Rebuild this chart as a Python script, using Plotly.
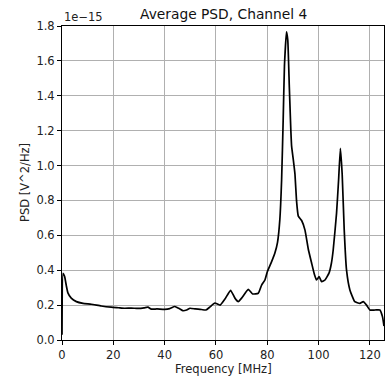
import plotly.graph_objects as go

# Frequency in MHz, PSD in units of 1e-15 V^2/Hz
freq_mhz = [0, 0.4, 1.0, 1.7, 2.3, 3.6, 5.6, 8.2, 11.4, 15.3, 19.2, 22, 24.4, 27, 29.6, 32,
            33.5, 34.8, 37, 40.0, 42, 43.9, 45, 46, 47.1, 48.6, 49.9, 52, 53.8, 56.1, 57.7,
            59.6, 61.6, 63.5, 65.7, 67.4, 68.7, 70.0, 72.6, 74.3, 76.5, 77.8, 79.1, 80.0,
            81.7, 83.0, 84.0, 84.9, 85.6, 86.2, 86.7, 87.5, 88.0, 88.6, 89.2, 89.5, 90.1,
            90.8, 91.4, 92.1, 93.4, 94.7, 96.0, 97.3, 98.3, 99.2, 100.2, 101.2, 102.5, 104.1,
            105.0, 105.7, 107.0, 107.8, 108.5, 109.2, 110.0, 110.9, 112.2, 114.1, 116.1,
            117.4, 118.7, 120.0, 122.0, 123.9, 124.9, 125.5]
psd_e15 = [0.03, 0.382, 0.365, 0.31, 0.27, 0.24, 0.22, 0.21, 0.205, 0.195, 0.188, 0.185,
           0.182, 0.183, 0.181, 0.184, 0.188, 0.177, 0.178, 0.176, 0.18, 0.192, 0.185, 0.178,
           0.168, 0.172, 0.182, 0.178, 0.176, 0.172, 0.19, 0.212, 0.20, 0.235, 0.285, 0.24,
           0.22, 0.24, 0.29, 0.264, 0.268, 0.315, 0.344, 0.39, 0.449, 0.50, 0.56, 0.69, 0.92,
           1.26, 1.57, 1.767, 1.72, 1.45, 1.2, 1.11, 1.04, 0.95, 0.80, 0.71, 0.685, 0.63,
           0.52, 0.44, 0.38, 0.344, 0.363, 0.334, 0.344, 0.385, 0.44, 0.516, 0.726, 0.917,
           1.099, 0.95, 0.63, 0.40, 0.287, 0.22, 0.21, 0.22, 0.20, 0.172, 0.172, 0.172,
           0.134, 0.08]

x_ticks = [0, 20, 40, 60, 80, 100, 120]
y_ticks = [0.0, 0.2, 0.4, 0.6, 0.8, 1.0, 1.2, 1.4, 1.6, 1.8]

FONT = "DejaVu Sans"
FS = 11.5

fig = go.Figure()
fig.add_trace(go.Scatter(x=freq_mhz, y=psd_e15, mode="lines",
                         line=dict(color="black", width=1.7, shape="spline", smoothing=0.4),
                         showlegend=False, hoverinfo="skip"))

axis_common = dict(showline=True, linecolor="black", linewidth=1, mirror=True,
                   ticks="outside", ticklen=4, tickwidth=0.9, tickcolor="black",
                   showgrid=True, gridcolor="#b0b0b0", gridwidth=0.9, zeroline=False,
                   tickfont=dict(family=FONT, size=FS, color="#222222"))

fig.update_xaxes(range=[0, 125.5], tickvals=x_ticks, ticktext=[str(t) for t in x_ticks],
                 **axis_common)
fig.update_yaxes(range=[0, 1.8], tickvals=y_ticks, ticktext=[f"{t:.1f}" for t in y_ticks],
                 **axis_common)

fig.update_layout(
    width=385, height=377,
    margin=dict(l=62, r=1, t=26, b=37),
    paper_bgcolor="white", plot_bgcolor="white",
    annotations=[
        dict(text="Average PSD, Channel 4", xref="paper", yref="paper", x=0.5, y=1,
             yanchor="bottom", xanchor="center", yshift=2, showarrow=False,
             font=dict(family=FONT, size=13.8, color="#111111")),
        dict(text="1e\u221215", xref="paper", yref="paper", x=0, y=1,
             yanchor="bottom", xanchor="left", yshift=0, showarrow=False,
             font=dict(family=FONT, size=FS, color="#222222")),
        dict(text="PSD [V^2/Hz]", xref="paper", yref="paper", x=-37 / 322, y=0.5,
             xanchor="center", yanchor="middle", textangle=-90, showarrow=False,
             font=dict(family=FONT, size=FS, color="#222222")),
        dict(text="Frequency [MHz]", xref="paper", yref="paper", x=0.5, y=0,
             xanchor="center", yanchor="top", yshift=-20, showarrow=False,
             font=dict(family=FONT, size=FS, color="#222222")),
    ],
)

fig.write_html("out.html")
